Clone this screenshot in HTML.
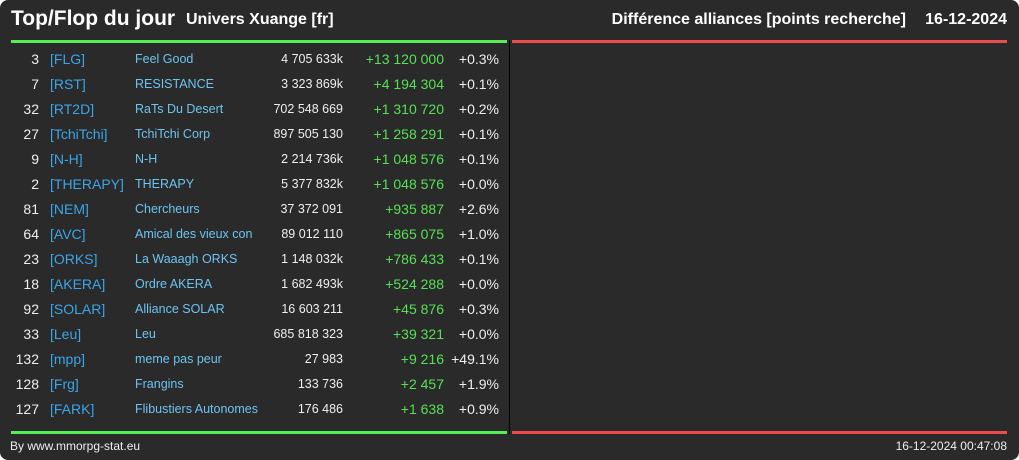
<!DOCTYPE html>
<html><head><meta charset="utf-8"><style>
body{margin:0;width:1019px;height:460px;background:#fff;overflow:hidden;font-family:"Liberation Sans",sans-serif}
#card{position:absolute;left:0;top:0;width:1019px;height:460px;background:#2a2a2a;border-radius:8px}
.t{position:absolute;white-space:nowrap;color:#eee}
.r{text-align:right}
</style></head><body>
<div id="card">
<div class="t" style="left:11px;top:7px;font-size:21px;font-weight:bold;color:#fff">Top/Flop du jour</div>
<div class="t" style="left:186px;top:11px;font-size:16px;font-weight:bold;color:#fff">Univers Xuange [fr]</div>
<div class="t r" style="right:113px;top:11px;font-size:16px;font-weight:bold;color:#fff">Différence alliances [points recherche]</div>
<div class="t r" style="right:12px;top:11px;font-size:16px;font-weight:bold;color:#fff">16-12-2024</div>
<div style="position:absolute;left:11px;top:40px;width:496px;height:3px;background:#55ee55"></div>
<div style="position:absolute;left:512px;top:40px;width:495px;height:3px;background:#ee4c4c"></div>
<div style="position:absolute;left:11px;top:431px;width:496px;height:3px;background:#55ee55"></div>
<div style="position:absolute;left:512px;top:431px;width:495px;height:3px;background:#ee4c4c"></div>
<div style="position:absolute;left:509px;top:40px;width:1px;height:394px;background:#000"></div>
<div id="rows"></div>
<div class="t" style="left:10px;top:439px;font-size:12px;color:#eee">By www.mmorpg-stat.eu</div>
<div class="t r" style="right:12px;top:439px;font-size:12px;color:#eee">16-12-2024 00:47:08</div>
</div>
<script>
const ranks=[3,7,32,27,9,2,81,64,23,18,92,33,132,128,127];
const tags=["[FLG]","[RST]","[RT2D]","[TchiTchi]","[N-H]","[THERAPY]","[NEM]","[AVC]","[ORKS]","[AKERA]","[SOLAR]","[Leu]","[mpp]","[Frg]","[FARK]"];
const names=["Feel Good","RESISTANCE","RaTs Du Desert","TchiTchi Corp","N-H","THERAPY","Chercheurs","Amical des vieux con","La Waaagh ORKS","Ordre AKERA","Alliance SOLAR","Leu","meme pas peur","Frangins","Flibustiers Autonomes"];
const points=["4 705 633k","3 323 869k","702 548 669","897 505 130","2 214 736k","5 377 832k","37 372 091","89 012 110","1 148 032k","1 682 493k","16 603 211","685 818 323","27 983","133 736","176 486"];
const diffs=["+13 120 000","+4 194 304","+1 310 720","+1 258 291","+1 048 576","+1 048 576","+935 887","+865 075","+786 433","+524 288","+45 876","+39 321","+9 216","+2 457","+1 638"];
const pcts=["+0.3%","+0.1%","+0.2%","+0.1%","+0.1%","+0.0%","+2.6%","+1.0%","+0.1%","+0.0%","+0.3%","+0.0%","+49.1%","+1.9%","+0.9%"];
const host=document.getElementById('rows');
function cell(txt,style,name){const d=document.createElement('div');d.className='t';d.textContent=txt;d.style.cssText=style;


host.appendChild(d);}
ranks.forEach((r,i)=>{const y=60+i*25;
cell(r,`right:${1019-39}px;top:${y-9}px;font-size:14px;color:#eee;text-align:right`,'rank');
cell(tags[i],`left:50px;top:${y-9}px;font-size:14px;color:#3aa6e8`,'alliance-tag');
cell(names[i],`left:135px;top:${y-8}px;font-size:12.5px;color:#6cc4f0`,'alliance-name');
cell(points[i],`right:${1019-343}px;top:${y-8}px;font-size:12.5px;color:#eee;text-align:right`,'points');
cell(diffs[i],`right:${1019-444}px;top:${y-9}px;font-size:14px;color:#55e055;text-align:right`,'difference');
cell(pcts[i],`right:${1019-499}px;top:${y-9}px;font-size:14px;color:#eee;text-align:right`,'percent');
});
</script>
</body></html>
